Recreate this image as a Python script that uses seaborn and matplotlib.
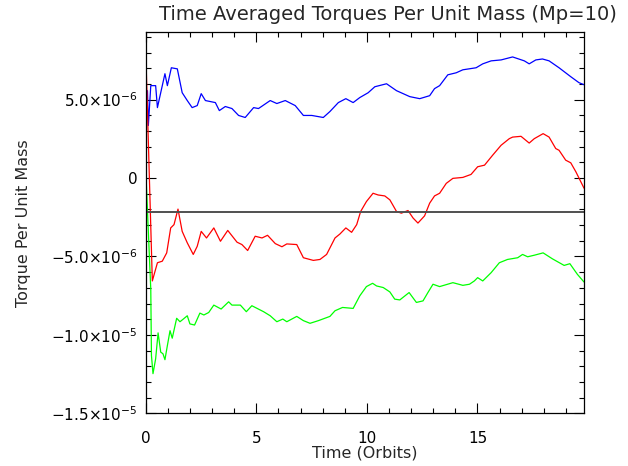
import matplotlib
matplotlib.use("Agg")
import matplotlib.pyplot as plt
import matplotlib.ticker as mticker
import pandas as pd
import seaborn as sns

# time in orbits, torques in units of 1e-6
blue_t = [0.0, 0.08, 0.12, 0.23, 0.45, 0.53, 0.75, 0.87, 0.98, 1.16, 1.43, 1.65, 1.88,
          2.10, 2.33, 2.51, 2.70, 3.15, 3.33, 3.60, 3.90, 4.20, 4.50, 4.88, 5.10, 5.63,
          5.93, 6.31, 6.76, 7.13, 7.51, 8.03, 8.33, 8.71, 9.05, 9.38, 9.68, 10.06, 10.36,
          10.89, 11.34, 11.94, 12.39, 12.84, 13.06, 13.29, 13.66, 14.04, 14.34, 14.94,
          15.24, 15.62, 16.07, 16.59, 17.12, 17.34, 17.64, 17.94, 18.24, 18.69, 19.22,
          19.59, 19.82]
blue_v = [4.9, 5.57, 3.35, 5.89, 5.89, 4.49, 5.89, 6.65, 5.89, 7.03, 6.96, 5.44, 4.94,
          4.49, 4.62, 5.38, 4.94, 4.81, 4.30, 4.56, 4.43, 3.99, 3.86, 4.49, 4.43, 4.94,
          4.75, 4.94, 4.62, 3.99, 3.99, 3.86, 4.24, 4.81, 5.06, 4.81, 5.13, 5.44, 5.82,
          6.01, 5.57, 5.19, 5.06, 5.25, 5.70, 5.89, 6.58, 6.71, 6.90, 7.03,
          7.28, 7.47, 7.53, 7.72, 7.47, 7.28, 7.53, 7.59, 7.47, 7.03, 6.46,
          6.08, 5.95]

red_t = [0.0, 0.30, 0.53, 0.75, 0.95, 1.13, 1.28, 1.46, 1.65, 1.88, 2.15, 2.33, 2.51,
         2.75, 3.08, 3.38, 3.71, 4.13, 4.35, 4.61, 4.95, 5.26, 5.51, 5.86, 6.16, 6.38,
         6.83, 7.13, 7.58, 7.88, 8.18, 8.56, 8.78, 9.05, 9.31, 9.54, 9.72, 9.98, 10.28,
         10.51, 10.81, 11.04, 11.34, 11.56, 11.86, 12.09, 12.31, 12.61, 12.84, 13.06,
         13.29, 13.59, 13.89, 14.34, 14.71, 15.01, 15.32, 15.69, 16.07, 16.44, 16.59,
         16.97, 17.34, 17.57, 17.97, 18.24, 18.54, 18.69, 18.99, 19.22, 19.45, 19.82]
red_v = [8.2, -6.56, -5.40, -5.30, -4.77, -3.18, -2.97, -1.98, -3.40, -4.13, -4.87,
         -4.35, -3.40, -3.82, -3.18, -4.03, -3.34, -4.09, -4.24, -4.62, -3.71, -3.82,
         -3.65, -4.18, -4.38, -4.20, -4.24, -5.08, -5.25, -5.19, -4.87, -3.82, -3.57,
         -3.18, -3.46, -2.97, -2.13, -1.50, -0.97, -1.08, -1.14, -1.39, -2.13, -2.24,
         -2.07, -2.55, -2.87, -2.41, -1.60, -1.14, -0.97, -0.34, -0.02, 0.04, 0.23,
         0.72, 0.82, 1.46, 2.09, 2.51, 2.61, 2.66, 2.23, 2.51, 2.83, 2.61, 1.88, 1.77,
         1.14, 0.97, 0.40, -0.65]

green_t = [0.0, 0.23, 0.26, 0.33, 0.45, 0.56, 0.68, 0.78, 0.87, 0.98, 1.10, 1.20, 1.40,
           1.55, 1.70, 1.88, 2.00, 2.21, 2.45, 2.63, 2.85, 3.08, 3.41, 3.75, 3.90, 4.28,
           4.55, 4.80, 5.33, 5.63, 5.93, 6.20, 6.38, 6.83, 7.13, 7.43, 7.81, 8.33, 8.56,
           8.90, 9.38, 9.68, 9.98, 10.26, 10.44, 10.74, 11.04, 11.26, 11.49, 11.91,
           12.24, 12.54, 12.76, 12.99, 13.29, 13.89, 14.34, 14.64, 14.86, 15.01, 15.24,
           15.62, 15.99, 16.36, 16.82, 17.04, 17.27, 17.57, 17.97, 18.39, 18.92, 19.18,
           19.52, 19.82]
green_v = [0.6, -7.1, -11.31, -12.47, -11.52, -9.87, -11.10, -11.20, -11.58, -10.68,
           -9.73, -10.21, -8.94, -9.16, -8.99, -8.78, -9.30, -9.37, -8.61, -8.73, -8.57,
           -8.10, -8.35, -7.89, -8.10, -8.10, -8.52, -8.14, -8.52, -8.78, -9.16, -8.99,
           -9.16, -8.82, -9.09, -9.26, -9.09, -8.82, -8.46, -8.25, -8.31, -7.51, -6.92,
           -6.71, -6.88, -6.98, -7.26, -7.72, -7.77, -7.30, -7.93, -7.83, -7.30, -6.77,
           -6.92, -6.67, -6.84, -6.77, -6.56, -6.35, -6.56, -6.03, -5.40, -5.19, -5.08,
           -4.87, -5.02, -4.92, -4.77, -5.15, -5.57, -5.46, -6.14, -6.63]

ref_level = -2.15  # horizontal reference line, 1e-6 units

SCALE = 1e-6


def sci_label(val, pos):
    if abs(val) < 1e-12:
        return "0"
    exp = int(f"{val:e}".split("e")[1])
    mant = val / 10 ** exp
    return r"$%.1f{\times}10^{%d}$" % (mant, exp)


sns.set_style("ticks")
plt.rcParams["font.family"] = ["DejaVu Sans"]
plt.rcParams["mathtext.fontset"] = "dejavusans"

fig = plt.figure(figsize=(6.28, 4.66), dpi=100)
ax = fig.add_axes([0.232, 0.113, 0.698, 0.818])

series = [(blue_t, blue_v, "#0000ff"), (red_t, red_v, "#ff0000"), (green_t, green_v, "#00ff00")]
for t, v, col in series:
    df = pd.DataFrame({"t": t, "v": [x * SCALE for x in v]})
    sns.lineplot(data=df, x="t", y="v", ax=ax, color=col, linewidth=0.9, estimator=None, sort=False)

ax.axhline(ref_level * SCALE, color="#505050", linewidth=1.4)

ax.set_xlim(0, 19.82)
ax.set_ylim(-1.5e-5, 9.3e-6)
ax.xaxis.set_major_locator(mticker.MultipleLocator(5))
ax.xaxis.set_minor_locator(mticker.MultipleLocator(1))
ax.yaxis.set_major_locator(mticker.MultipleLocator(5e-6))
ax.yaxis.set_minor_locator(mticker.MultipleLocator(1e-6))
ax.yaxis.set_major_formatter(mticker.FuncFormatter(sci_label))
ax.tick_params(which="both", direction="in", top=True, right=True, colors="black",
               labelsize=11, width=0.8)
ax.tick_params(which="major", length=7)
ax.tick_params(which="minor", length=3.5)
ax.tick_params(axis="x", which="major", pad=12.5)
ax.tick_params(axis="y", which="major", pad=6)
for sp in ax.spines.values():
    sp.set_color("black")
    sp.set_linewidth(0.9)

fig.text(0.618, 0.968, "Time Averaged Torques Per Unit Mass (Mp=10)", fontsize=14,
         ha="center", va="center")
ax.set_xlabel("Time (Orbits)", fontsize=11.5, labelpad=0)
ax.set_ylabel("Torque Per Unit Mass", fontsize=11.5, labelpad=14)

fig.savefig("out.png", dpi=100)
